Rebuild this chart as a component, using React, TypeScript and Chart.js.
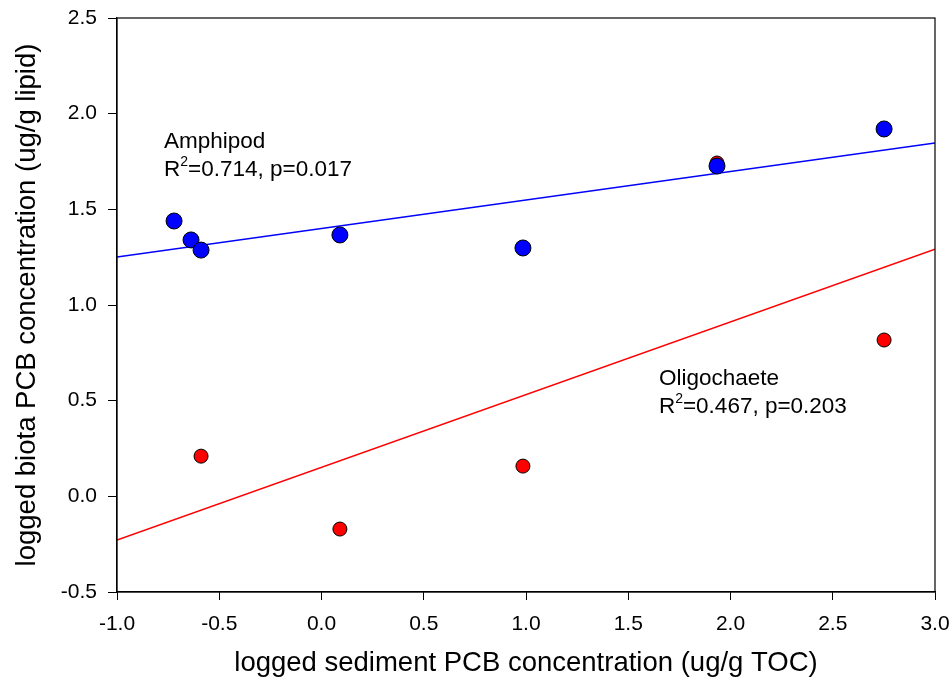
import React, { useEffect, useRef } from "react";
import { Chart, registerables } from "chart.js";

Chart.register(...registerables);

const amphipodX = [-0.721, -0.638, -0.589, 0.09, 0.985, 1.934, 2.751];
const amphipodY = [1.439, 1.34, 1.287, 1.366, 1.298, 1.726, 1.92];
const oligoX = [-0.589, 0.09, 0.985, 1.934, 2.751];
const oligoY = [0.21, -0.171, 0.158, 1.742, 0.817];
const fitX = [-1.0, 3.0];
const amphipodFitY = [1.251, 1.847];
const oligoFitY = [-0.229, 1.292];

const annotations = [
  { x: -0.77, y: 1.82, name: "Amphipod", r2: "0.714", p: "0.017" },
  { x: 1.65, y: 0.582, name: "Oligochaete", r2: "0.467", p: "0.203" },
];

const FONT = "'Liberation Sans', Arial, sans-serif";

const pts = (xs: number[], ys: number[]) => xs.map((x, i) => ({ x, y: ys[i] }));

const zeroPad = (s: any) => {
  s.paddingTop = 0;
  s.paddingBottom = 0;
  s.paddingLeft = 0;
  s.paddingRight = 0;
};

const framePlugin = {
  id: "frame",
  afterDraw(chart: any) {
    const { ctx, chartArea } = chart;
    ctx.save();
    ctx.strokeStyle = "#000";
    ctx.lineWidth = 1.2;
    ctx.strokeRect(chartArea.left, chartArea.top, chartArea.right - chartArea.left, chartArea.bottom - chartArea.top);
    const xs = chart.scales.x;
    const ys = chart.scales.y;
    ctx.fillStyle = "#000";
    ctx.textBaseline = "alphabetic";
    ctx.textAlign = "left";
    for (const a of annotations) {
      const px = xs.getPixelForValue(a.x);
      const py = ys.getPixelForValue(a.y);
      ctx.font = `22.5px ${FONT}`;
      ctx.fillText(a.name, px, py);
      const y2 = py + 28;
      ctx.fillText("R", px, y2);
      let w = ctx.measureText("R").width;
      ctx.font = `14px ${FONT}`;
      ctx.fillText("2", px + w, y2 - 10);
      w += ctx.measureText("2").width;
      ctx.font = `22.5px ${FONT}`;
      ctx.fillText(`=${a.r2}, p=${a.p}`, px + w, y2);
    }
    ctx.restore();
  },
};

export default function App() {
  const ref = useRef<HTMLCanvasElement>(null);
  useEffect(() => {
    if (!ref.current) return;
    const chart = new Chart(ref.current, {
      type: "scatter",
      data: {
        datasets: [
          {
            label: "Amphipod",
            data: pts(amphipodX, amphipodY),
            backgroundColor: "#0000FF",
            borderColor: "#000",
            borderWidth: 1,
            pointRadius: 8,
          },
          {
            label: "Oligochaete",
            data: pts(oligoX, oligoY),
            backgroundColor: "#FF0000",
            borderColor: "#000",
            borderWidth: 1,
            pointRadius: 7,
          },
          {
            type: "line",
            label: "Amphipod fit",
            data: pts(fitX, amphipodFitY),
            borderColor: "#0000FF",
            borderWidth: 1.5,
            pointRadius: 0,
            fill: false,
          },
          {
            type: "line",
            label: "Oligochaete fit",
            data: pts(fitX, oligoFitY),
            borderColor: "#FF0000",
            borderWidth: 1.5,
            pointRadius: 0,
            fill: false,
          },
        ],
      } as any,
      options: {
        responsive: false,
        animation: false,
        layout: { padding: { top: 18, right: 16, left: 0, bottom: 0 } },
        plugins: { legend: { display: false }, tooltip: { enabled: false } },
        scales: {
          x: {
            type: "linear",
            min: -1,
            max: 3,
            afterFit: (s: any) => {
              s.height = 98;
              zeroPad(s);
            },
            ticks: {
              stepSize: 0.5,
              color: "#000",
              font: { family: FONT, size: 21 },
              padding: 12,
              maxRotation: 0,
              callback: (v: any) => Number(v).toFixed(1),
            },
            grid: { drawOnChartArea: false, tickLength: 8, color: "#000", tickColor: "#000" },
            border: { color: "#000", width: 1.2 },
            title: {
              display: true,
              text: "logged sediment PCB concentration (ug/g TOC)",
              color: "#000",
              font: { family: FONT, size: 27.5 },
              padding: { bottom: 10 },
            },
          },
          y: {
            type: "linear",
            min: -0.5,
            max: 2.5,
            afterFit: (s: any) => {
              s.width = 117;
              zeroPad(s);
            },
            ticks: {
              stepSize: 0.5,
              color: "#000",
              font: { family: FONT, size: 21 },
              padding: 11,
              callback: (v: any) => Number(v).toFixed(1),
            },
            grid: { drawOnChartArea: false, tickLength: 9, color: "#000", tickColor: "#000" },
            border: { color: "#000", width: 1.2 },
            title: {
              display: true,
              text: "logged biota PCB concentration (ug/g lipid)",
              color: "#000",
              font: { family: FONT, size: 27.5 },
              padding: { top: 11 },
            },
          },
        },
      } as any,
      plugins: [framePlugin],
    });
    return () => chart.destroy();
  }, []);
  return (
    <div style={{ position: "absolute", left: 0, top: 0, width: 951, height: 690, background: "#fff" }}>
      <canvas ref={ref} width={951} height={690} />
    </div>
  );
}
